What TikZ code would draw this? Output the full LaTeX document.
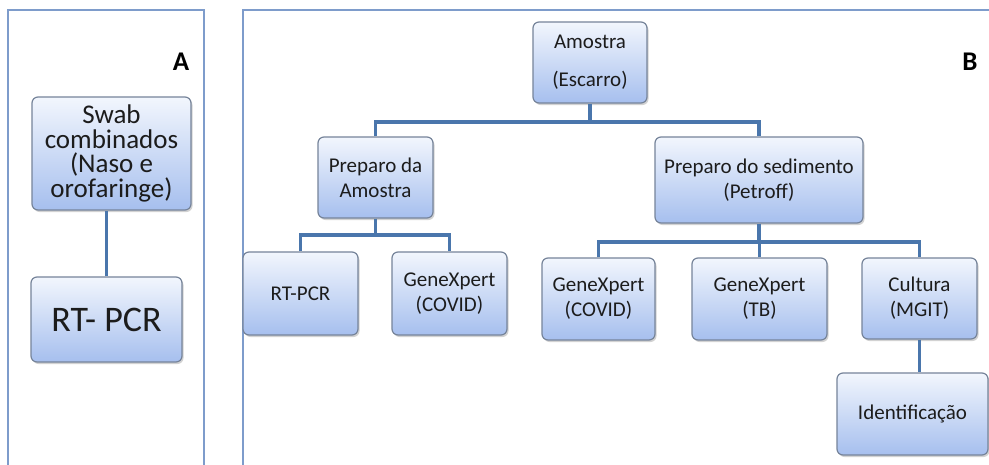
\documentclass[tikz,border=0pt]{standalone}
\usepackage{fontspec}
\setmainfont{Carlito}
\usetikzlibrary{shadows}
\definecolor{boxtop}{HTML}{F2F6FD}
\definecolor{boxbot}{HTML}{A6BFEE}
\definecolor{boxline}{HTML}{76849A}
\definecolor{connc}{HTML}{4A76AC}
\definecolor{panelc}{HTML}{7E9CCB}
\definecolor{txt}{HTML}{1C1C1C}
\tikzset{
  bx/.style={draw=boxline, line width=1.2pt, rounded corners=6pt,
    top color=boxtop, bottom color=boxbot,
    drop shadow={shadow xshift=1.5pt, shadow yshift=-2pt, opacity=0.35},
    align=center, text=txt, inner sep=0pt},
  bfont/.style={font=\fontsize{21}{25}\selectfont},
  conn/.style={draw=connc, line width=3.8pt},
  pan/.style={draw=panelc, line width=1.8pt},
  panlabel/.style={font=\fontsize{27}{30}\selectfont\bfseries, text=black},
}
\begin{document}
\begin{tikzpicture}[x=1pt,y=-1pt]
\useasboundingbox[fill=white] (0,0) rectangle (989,464);
% panels
\draw[pan] (8,470) -- (8,10) -- (204,10) -- (204,470);
\draw[pan] (243,470) -- (243,10) -- (995,10);
\node[panlabel] (la) at (181,62) {A};
\node[panlabel] (lb) at (970,62) {B};
% bus coordinates
\coordinate (b1) at (0,122);
\coordinate (b2) at (0,235);
\coordinate (b3) at (0,242);
% panel A
\node[bx, minimum width=159pt, minimum height=113pt, font=\fontsize{27}{24.5}\selectfont] (swab) at (111.5,153.5)
  {Swab\\combinados\\(Naso e\\orofaringe)};
\node[bx, minimum width=151pt, minimum height=85pt, font=\fontsize{36}{40}\selectfont] (rta) at (106.5,319.5) {RT- PCR};
% panel B
\node[bx, minimum width=114pt, minimum height=81pt, font=\fontsize{21}{38}\selectfont] (amostra) at (590,62.5) {Amostra\\(Escarro)};
\node[bx, bfont, minimum width=115pt, minimum height=81pt] (prepa) at (375.5,177.5) {Preparo da\\Amostra};
\node[bx, bfont, minimum width=208pt, minimum height=86pt] (preps) at (759,180) {Preparo do sedimento\\(Petroff)};
\node[bx, bfont, minimum width=115pt, minimum height=83pt] (rtb) at (300.5,293.5) {RT-PCR};
\node[bx, bfont, minimum width=115pt, minimum height=83pt] (gx1) at (449.5,293.5) {GeneXpert\\(COVID)};
\node[bx, bfont, minimum width=113pt, minimum height=82pt] (gx2) at (598.5,299) {GeneXpert\\(COVID)};
\node[bx, bfont, minimum width=135pt, minimum height=82pt] (gxtb) at (759.5,299) {GeneXpert\\(TB)};
\node[bx, bfont, minimum width=115pt, minimum height=81pt] (cult) at (919.5,298.5) {Cultura\\(MGIT)};
\node[bx, bfont, minimum width=151pt, minimum height=82pt] (ident) at (912.5,414) {Identificação};
% connectors
\draw[conn] (rta.north) -- (rta.north |- swab.south);
\draw[conn] (amostra.south) -- (amostra.south |- b1);
\draw[conn] (prepa.north) -- (prepa.north |- b1) -- (preps.north |- b1) -- (preps.north);
\draw[conn] (prepa.south) -- (prepa.south |- b2);
\draw[conn] (rtb.north) -- (rtb.north |- b2) -- (gx1.north |- b2) -- (gx1.north);
\draw[conn] (preps.south) -- (preps.south |- b3);
\draw[conn] (gx2.north) -- (gx2.north |- b3) -- (cult.north |- b3) -- (cult.north);
\draw[conn] (gxtb.north) -- (gxtb.north |- b3);
\draw[conn] (cult.south) -- (cult.south |- ident.north);
\end{tikzpicture}
\end{document}
